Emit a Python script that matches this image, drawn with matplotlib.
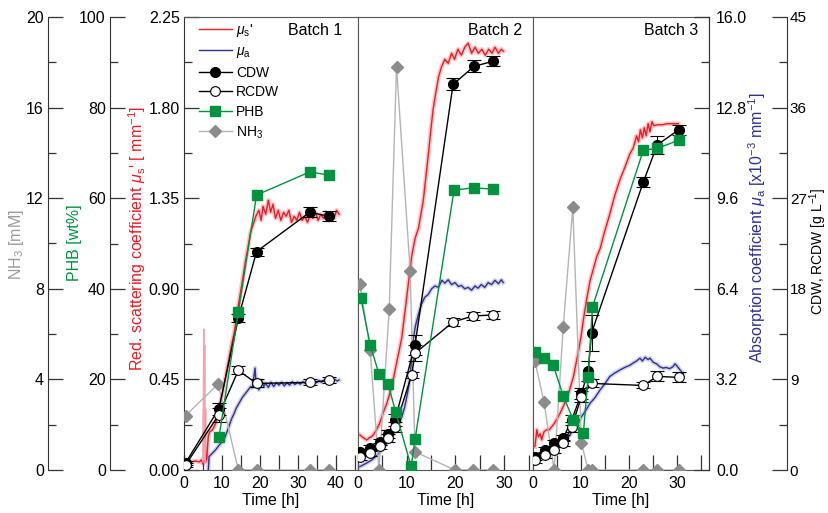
import matplotlib.pyplot as plt
from matplotlib.ticker import MultipleLocator, FormatStrFormatter

plt.rcParams['font.family'] = 'Liberation Sans'
plt.rcParams['mathtext.fontset'] = 'custom'
plt.rcParams['mathtext.rm'] = 'Liberation Sans'
plt.rcParams['mathtext.it'] = 'Liberation Sans:italic'
plt.rcParams['font.size'] = 11.5

# ---------------- values ----------------
# Batch 1
mus1_t = [0, 1, 2, 3, 4, 4.6, 5.0, 5.3, 5.5, 5.7, 6.0, 6.4, 6.8, 7.5, 8.3, 9.2, 10.1, 11.0,
          11.8, 12.5, 13.2, 14.5, 15.3, 16.2, 16.8, 17.5, 18.2, 18.9, 19.7, 20.3, 20.8,
          21.5, 22.2, 22.8, 23.4, 24.1, 24.8, 25.5, 26.2, 26.9, 27.6, 28.3, 29.0, 29.7,
          30.4, 31.1, 31.8, 32.5, 33.2, 33.9, 34.6, 35.3, 36.0, 36.7, 37.4, 38.1, 38.8,
          39.5, 40.2, 40.8]
mus1 = [0.04, 0.045, 0.04, 0.045, 0.04, 0.05, 0.03, 0.05, 0.30, 0.04, 0.06, 0.17, 0.19,
        0.20, 0.23, 0.30, 0.38, 0.47, 0.55, 0.62, 0.68, 0.84, 0.93, 1.04, 1.10, 1.18, 1.22,
        1.26, 1.29, 1.24, 1.31, 1.27, 1.34, 1.28, 1.32, 1.25, 1.29, 1.24, 1.28, 1.26, 1.29,
        1.23, 1.26, 1.24, 1.28, 1.24, 1.26, 1.23, 1.27, 1.25, 1.28, 1.24, 1.27, 1.25, 1.28,
        1.24, 1.27, 1.25, 1.29, 1.27]
spike1_t = [5.0, 5.2, 5.3, 5.45, 5.6, 5.8]
spike1 = [0.04, 0.70, 0.05, 0.62, 0.05, 0.04]
mua1_t = [6.4, 6.6, 7.5, 8.3, 9.4, 10.5, 11.2, 11.8, 12.5, 13.2, 13.8, 14.5, 15.3, 16.2,
          17.0, 17.6, 18.0, 18.4, 18.7, 19.0, 19.4, 19.7, 20.1, 20.5, 21.0, 21.5, 22.2,
          22.9, 23.6, 24.3, 25.0, 25.7, 26.4, 27.1, 27.8, 28.5, 29.2, 29.9, 30.6, 31.3,
          32.0, 32.7, 33.4, 34.1, 34.8, 35.5, 36.2, 36.9, 37.6, 38.3, 39.0, 39.7, 40.3, 40.8]
mua1 = [0.0, 0.47, 0.6, 0.71, 0.9, 1.06, 1.3, 1.53, 1.8, 2.0, 2.2, 2.36, 2.55, 2.71, 2.85,
        2.95, 2.9, 3.3, 3.6, 3.0, 3.2, 2.83, 2.95, 3.15, 2.95, 3.06, 2.92, 3.1, 2.95, 3.08,
        3.0, 3.1, 2.97, 3.08, 3.0, 3.12, 3.02, 3.1, 3.03, 3.12, 3.05, 3.14, 3.06, 3.15, 3.08,
        3.16, 3.1, 3.18, 3.1, 3.2, 3.12, 3.2, 3.14, 3.18]
cdw1_t = [0.4, 9.2, 14.3, 19.1, 33.1, 38.2]
cdw1 = [0.7, 6.1, 15.1, 21.7, 25.6, 25.2]
cdw1_err = [0.2, 0.6, 0.4, 0.4, 0.5, 0.5]
rcdw1_t = [0.4, 9.2, 14.3, 19.1, 33.1, 38.2]
rcdw1 = [0.5, 5.5, 9.9, 8.6, 8.7, 8.9]
rcdw1_err = [0.2, 0.7, 0.4, 0.4, 0.3, 0.3]
phb1_t = [9.2, 14.3, 19.1, 33.1, 38.2]
phb1 = [7.2, 34.9, 60.7, 65.8, 65.1]
nh3_1_t = [0.4, 9.0, 14.3, 19.1, 33.1, 38.2]
nh3_1 = [2.4, 3.8, 0, 0, 0, 0]

# Batch 2
mus2_t = [0.4, 1.1, 1.8, 2.3, 2.8, 3.3, 3.8, 4.4, 4.9, 5.4, 5.9, 6.4, 6.9, 7.4, 7.9, 8.5,
          9.0, 9.5, 10.0, 10.5, 11.0, 11.7, 12.4, 12.9, 13.4, 13.9, 14.4, 14.9, 15.4, 16.0,
          16.5, 17.1, 17.8, 18.5, 19.2, 19.8, 20.5, 21.2, 21.9, 22.6, 23.3, 24.0, 24.7,
          25.4, 26.1, 26.8, 27.5, 28.1, 28.8, 29.4, 29.8]
mus2 = [0.174, 0.16, 0.149, 0.16, 0.166, 0.18, 0.2, 0.23, 0.265, 0.3, 0.33, 0.37, 0.41,
        0.47, 0.53, 0.6, 0.66, 0.76, 0.86, 0.96, 1.06, 1.15, 1.2, 1.27, 1.34, 1.45, 1.56,
        1.68, 1.79, 1.88, 1.95, 2.0, 2.04, 2.02, 2.07, 2.04, 2.09, 2.06, 2.1, 2.12, 2.07,
        2.1, 2.07, 2.09, 2.06, 2.09, 2.07, 2.1, 2.07, 2.09, 2.08]
mua2_t = [0.4, 1.5, 2.8, 3.9, 4.9, 5.9, 6.9, 7.6, 8.3, 9.0, 9.6, 10.2, 10.7, 11.0, 11.3,
          11.8, 12.4, 13.0, 13.7, 14.4, 15.1, 15.8, 16.5, 17.2, 17.8, 18.5, 19.2, 19.9,
          20.6, 21.2, 21.9, 22.6, 23.3, 24.0, 24.6, 25.3, 26.0, 26.7, 27.4, 28.1, 28.8,
          29.4, 29.8]
mua2 = [0.12, 0.22, 0.35, 0.52, 0.71, 0.93, 1.18, 1.38, 1.59, 1.88, 2.24, 2.75, 3.3, 3.95,
        4.6, 5.1, 5.5, 5.85, 6.1, 6.2, 6.4, 6.5, 6.45, 6.7, 6.6, 6.72, 6.55, 6.62, 6.48,
        6.52, 6.4, 6.45, 6.35, 6.5, 6.42, 6.55, 6.45, 6.62, 6.55, 6.7, 6.58, 6.72, 6.62]
cdw2_t = [0.4, 2.5, 4.5, 6.2, 7.6, 11.7, 19.5, 23.8, 27.7]
cdw2 = [1.8, 2.15, 2.8, 3.6, 5.0, 12.4, 38.3, 40.1, 40.6]
cdw2_err = [0.3, 0.3, 0.3, 0.4, 0.6, 1.0, 0.6, 0.6, 0.5]
rcdw2_t = [0.4, 2.5, 4.5, 6.2, 7.6, 11.0, 11.7, 19.5, 23.6, 27.7]
rcdw2 = [1.3, 1.7, 2.4, 3.15, 4.3, 9.4, 11.6, 14.7, 15.3, 15.4]
rcdw2_err = [0.3, 0.3, 0.3, 0.4, 0.5, 0.3, 0.8, 0.4, 0.4, 0.4]
phb2_t = [0.6, 2.5, 4.3, 6.2, 7.7, 10.9, 11.7, 19.7, 23.8, 27.7]
phb2 = [37.9, 27.6, 21.2, 18.9, 12.9, 0.8, 6.8, 61.8, 62.3, 62.0]
nh3_2_t = [0.4, 2.5, 4.3, 6.4, 7.9, 10.7, 11.7, 19.9, 23.6, 27.7]
nh3_2 = [8.2, 5.3, 0.0, 7.1, 17.8, 8.8, 0.8, 0.0, 0.0, 0.0]

# Batch 3
mus3_t = [0.4, 0.8, 1.1, 1.5, 1.8, 2.3, 2.85, 3.4, 3.9, 4.4, 4.9, 5.6, 6.3, 6.9, 7.4, 7.9,
          8.4, 8.9, 9.4, 10.0, 10.5, 11.2, 11.9, 12.6, 13.3, 14.0, 15.0, 16.0, 17.0, 18.1,
          19.1, 20.2, 20.9, 21.6, 22.0, 22.4, 22.8, 23.2, 23.6, 24.0, 24.4, 24.8, 25.2,
          26.0, 27.0, 28.0, 29.0, 30.3]
mus3 = [0.116, 0.2, 0.165, 0.18, 0.15, 0.19, 0.2, 0.2, 0.215, 0.23, 0.25, 0.28, 0.315,
        0.35, 0.38, 0.42, 0.46, 0.52, 0.58, 0.66, 0.745, 0.85, 0.94, 1.0, 1.06, 1.1, 1.19,
        1.27, 1.36, 1.44, 1.5, 1.57, 1.6, 1.66, 1.63, 1.69, 1.65, 1.7, 1.66, 1.72, 1.68,
        1.73, 1.71, 1.715, 1.715, 1.72, 1.72, 1.72]
mua3_t = [0.4, 1.2, 2.1, 3.1, 4.2, 5.2, 6.3, 7.3, 8.4, 9.2, 10.1, 11.0, 11.9, 12.9, 14.0,
          15.0, 16.0, 17.0, 18.1, 19.1, 20.2, 20.9, 21.6, 22.3, 22.8, 23.4, 24.0, 24.4,
          25.1, 25.8, 26.4, 27.1, 27.8, 28.5, 29.2, 29.6, 29.9, 30.6, 31.3]
mua3 = [0.24, 0.35, 0.47, 0.6, 0.71, 0.82, 0.94, 1.15, 1.41, 1.62, 1.88, 2.1, 2.36, 2.55,
        2.83, 3.05, 3.3, 3.42, 3.53, 3.62, 3.7, 3.78, 3.85, 3.95, 3.85, 3.98, 3.9, 3.95,
        3.8, 3.75, 3.65, 3.6, 3.62, 3.58, 3.65, 3.75, 3.7, 3.55, 3.4]
cdw3_t = [0.4, 2.5, 4.4, 6.3, 8.1, 10.1, 11.5, 12.2, 23.0, 25.9, 30.4]
cdw3 = [1.3, 2.0, 2.65, 3.15, 5.0, 7.6, 9.8, 13.6, 28.6, 32.3, 33.8]
cdw3_err = [0.3, 0.3, 0.3, 0.3, 0.5, 0.5, 1.0, 1.8, 0.5, 0.9, 0.5]
rcdw3_t = [0.4, 2.5, 4.4, 6.3, 8.1, 10.1, 12.2, 23.0, 25.9, 30.4]
rcdw3 = [1.0, 1.5, 2.0, 2.65, 4.3, 7.3, 8.6, 8.4, 9.3, 9.2]
rcdw3_err = [0.3, 0.3, 0.3, 0.3, 0.5, 0.5, 0.4, 0.3, 0.5, 0.5]
phb3_t = [0.4, 2.3, 4.2, 6.3, 8.4, 10.5, 11.5, 12.4, 23.0, 25.9, 30.4]
phb3 = [26.1, 24.7, 23.2, 16.4, 11.0, 8.2, 20.6, 36.0, 70.6, 71.0, 72.8]
nh3_3_t = [0.4, 2.3, 4.4, 6.3, 8.3, 10.1, 11.5, 12.4, 23.0, 25.9, 30.4]
nh3_3 = [4.8, 3.0, 0.0, 6.3, 11.6, 1.2, 0.0, 0.0, 0.0, 0.0, 0.0]

batch_names = ['Batch 1', 'Batch 2', 'Batch 3']
time_max = [45.8, 35.9, 36.7]

batches = [
    dict(mus=(mus1_t, mus1), mua=(mua1_t, mua1), cdw=(cdw1_t, cdw1, cdw1_err),
         rcdw=(rcdw1_t, rcdw1, rcdw1_err), phb=(phb1_t, phb1), nh3=(nh3_1_t, nh3_1)),
    dict(mus=(mus2_t, mus2), mua=(mua2_t, mua2), cdw=(cdw2_t, cdw2, cdw2_err),
         rcdw=(rcdw2_t, rcdw2, rcdw2_err), phb=(phb2_t, phb2), nh3=(nh3_2_t, nh3_2)),
    dict(mus=(mus3_t, mus3), mua=(mua3_t, mua3), cdw=(cdw3_t, cdw3, cdw3_err),
         rcdw=(rcdw3_t, rcdw3, rcdw3_err), phb=(phb3_t, phb3), nh3=(nh3_3_t, nh3_3)),
]

# ---------------- layout (pixels) ----------------
W, H = 829, 513
bottom, height = 43, 453
panel_px = [(184, 174), (358, 175), (533, 176)]
text_x = [0.91, 0.935, 0.94]

red = '#ec1c24'
blue = '#2e3192'
green = '#00923f'
gray_m = '#8c8c8c'
gray_l = '#b4b4b4'
frame = '#555555'
PX = 0.72  # points per pixel at 100 dpi

fig = plt.figure(figsize=(W / 100, H / 100), dpi=100)


def style_y(ax, side, major, minor, fmt, pad=3, size=11.5):
    ax.yaxis.set_major_locator(MultipleLocator(major))
    ax.yaxis.set_minor_locator(MultipleLocator(minor))
    ax.yaxis.set_major_formatter(FormatStrFormatter(fmt))
    kw = {side: True, 'label' + side: True}
    ax.tick_params(axis='y', which='both', direction='in', color='#333333', width=0.9,
                   labelsize=size, **kw)
    ax.tick_params(axis='y', which='major', length=15 * PX, pad=pad)
    ax.tick_params(axis='y', which='minor', length=8 * PX)
    ax.spines[side].set_visible(True)
    ax.spines[side].set_color('#333333')


for i, b in enumerate(batches):
    x0, w = panel_px[i]
    ax = fig.add_axes([x0 / W, bottom / H, w / W, height / H])
    ax.set_xlim(0, time_max[i])
    ax.set_ylim(0, 2.25)
    axa = ax.twinx()
    axa.set_ylim(0, 16)
    axn = ax.twinx()
    axn.set_ylim(0, 20)
    axc = ax.twinx()
    axc.set_ylim(0, 45)
    axp = ax.twinx()
    axp.set_ylim(0, 100)

    for sp in ax.spines.values():
        sp.set_color(frame)
    ax.tick_params(axis='y', which='both', left=False, right=False, labelleft=False)
    for t in (axa, axn, axc, axp):
        t.tick_params(axis='y', which='both', left=False, right=False,
                      labelleft=False, labelright=False)
        for sp in t.spines.values():
            sp.set_visible(False)

    ax.xaxis.set_major_locator(MultipleLocator(10))
    ax.xaxis.set_minor_locator(MultipleLocator(5))
    ax.tick_params(axis='x', which='both', direction='in', length=15 * PX, width=0.9,
                   color='#333333', top=False, pad=4)

    if i == 0:
        style_y(ax, 'left', 0.45, 0.225, '%.2f')
        style_y(axp, 'left', 20, 10, '%d')
        axp.spines['left'].set_position(('outward', 74 * PX))
        style_y(axn, 'left', 4, 2, '%d')
        axn.spines['left'].set_position(('outward', 136 * PX))
    if i == 2:
        style_y(axa, 'right', 3.2, 1.6, '%.1f', pad=5)
        style_y(axc, 'right', 9, 4.5, '%d', pad=2, size=11)
        axc.spines['right'].set_position(('outward', 78 * PX))

    # optical signals
    t, v = b['mus']
    ax.plot(t, v, color=red, lw=3.2, alpha=0.25, solid_joinstyle='round')
    h_mus, = ax.plot(t, v, color=red, lw=1.0)
    if i == 0:
        ax.plot(spike1_t, spike1, color='#f5a3ac', lw=1.0)
    t, v = b['mua']
    axa.plot(t, v, color=blue, lw=3.2, alpha=0.2, solid_joinstyle='round')
    h_mua, = axa.plot(t, v, color=blue, lw=1.0)

    # offline samples
    t, v = b['nh3']
    h_nh3, = axn.plot(t, v, '-D', color=gray_l, mfc=gray_m, mec=gray_m, ms=6.5, lw=1.0)
    t, v, e = b['cdw']
    c_cdw = axc.errorbar(t, v, yerr=e, fmt='-o', color='black', mfc='black', ms=7,
                         lw=1.0, capsize=5, elinewidth=0.8, capthick=0.8)
    t, v, e = b['rcdw']
    c_rcdw = axc.errorbar(t, v, yerr=e, fmt='-o', color='black', mfc='white', ms=7,
                          lw=1.0, capsize=5, elinewidth=0.8, capthick=0.8, mew=0.8)
    t, v = b['phb']
    h_phb, = axp.plot(t, v, '-s', color=green, mfc=green, mec=green, ms=6.5, lw=1.0)

    axp.text(text_x[i], 0.971, batch_names[i], transform=ax.transAxes,
             ha='right', va='center', fontsize=11.5)
    fig.text((x0 + w / 2) / W, 13 / H, 'Time [h]', ha='center', va='center', fontsize=11.5)

    if i == 0:
        axp.legend([h_mus, h_mua, c_cdw[0], c_rcdw[0], h_phb, h_nh3],
                   [r"$\mu_\mathrm{s}$'", r"$\mu_\mathrm{a}$", 'CDW', 'RCDW', 'PHB',
                    r'NH$_3$'],
                   loc='upper left', bbox_to_anchor=(0.085, 0.99), frameon=False,
                   borderpad=0, borderaxespad=0, handlelength=2.4, handletextpad=0.3,
                   labelspacing=0.4, fontsize=10)

# axis titles
fig.text(17 / W, 1 - 245 / H, r'NH$_3$ [mM]', rotation=90, ha='center', va='center',
         color='#9a9a9a')
fig.text(75 / W, 1 - 243 / H, 'PHB [wt%]', rotation=90, ha='center', va='center',
         color=green)
fig.text(137 / W, 1 - 238 / H, r"Red. scattering coefficient $\mu_\mathrm{s}$' [ mm$^{-1}$]",
         rotation=90, ha='center', va='center', color=red)
fig.text(757 / W, 1 - 228 / H,
         r'Absorption coefficient $\mu_\mathrm{a}$ [x10$^{-3}$ mm$^{-1}$]',
         rotation=90, ha='center', va='center', color=blue)
fig.text(818 / W, 1 - 251 / H, r'CDW, RCDW [g L$^{-1}$]', rotation=90, ha='center',
         va='center', color='black', fontsize=10)

fig.savefig('out.png', dpi=100)
